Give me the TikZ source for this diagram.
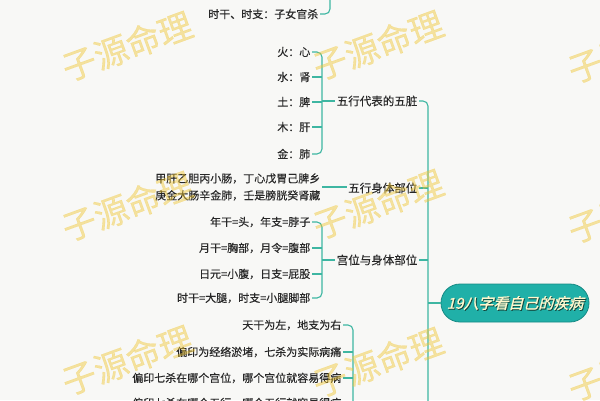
\documentclass[tikz,border=0pt]{standalone}
\usepackage{fontspec}
\setmainfont[FakeBold=0.4]{Noto Sans CJK SC}
\newfontfamily\titlefont[FakeSlant=0.25,FakeBold=1.2]{Noto Sans CJK SC}
\definecolor{bg}{RGB}{248,248,246}
\definecolor{linec}{RGB}{62,182,162}
\definecolor{pillc}{RGB}{32,176,168}
\definecolor{pilldark}{RGB}{22,138,132}
\definecolor{txt}{RGB}{40,40,40}
\definecolor{wm}{RGB}{240,198,50}
\definecolor{titletxt}{RGB}{255,247,205}
\definecolor{titleshade}{RGB}{20,70,60}
\tikzset{
  leaf/.style={anchor=east, inner sep=1.5pt, text=txt, font=\fontsize{11}{17}\selectfont},
  branch/.style={anchor=east, inner sep=1.5pt, text=txt, font=\fontsize{11.5}{13}\selectfont},
  conn/.style={draw=linec, line width=1.1pt, rounded corners=5pt},
  wmark/.style={text=wm, text opacity=0.45, rotate=20, font=\fontsize{34}{36}\selectfont},
  pill/.style={fill=pillc, draw=pilldark, line width=0.8pt, rounded corners=19pt, minimum width=148pt, minimum height=38pt},
  titlestyle/.style={text=titletxt, font=\titlefont\fontsize{15}{17}\selectfont},
  titleshadow/.style={text=titleshade, font=\titlefont\fontsize{15}{17}\selectfont},
}
\begin{document}
\begin{tikzpicture}[x=1pt,y=-1pt]
\useasboundingbox (0,0) rectangle (600,400);
\fill[bg] (0,0) rectangle (600,400);
\clip (0,0) rectangle (600,400);

% top group (parent off the picture)
\node[leaf] (t0) at (320,14) {时干、时支：子女官杀};
\coordinate (b0) at (330,-12);
\draw[conn] (t0.east) -| (b0);

% group 1
\node[leaf] (a1) at (312,52) {火：心};
\node[leaf] (a2) at (312,77) {水：肾};
\node[leaf] (a3) at (312,102) {土：脾};
\node[leaf] (a4) at (312,127) {木：肝};
\node[leaf] (a5) at (312,154) {金：肺};
\node[branch] (p1) at (419,101) {五行代表的五脏};
\coordinate (b1) at (322,101);
\draw[conn] (a1.east) -| (b1) |- (a5.east);
\draw[conn] (a2.east) -- (a2.east -| b1);
\draw[conn] (a3.east) -- (a3.east -| b1);
\draw[conn] (a4.east) -- (a4.east -| b1);
\draw[conn] (b1) -- (p1.west);

% group 2
\node[leaf, align=left] (g2) at (322,187) {甲肝乙胆丙小肠，丁心戊胃己脾乡\\庚金大肠辛金肺，壬是膀胱癸肾藏};
\node[branch] (p2) at (419,188) {五行身体部位};
\draw[conn] (g2.east) -- (g2.east -| p2.west);

% group 3
\node[leaf] (e1) at (312,222) {年干=头，年支=脖子};
\node[leaf] (e2) at (312,248) {月干=胸部，月令=腹部};
\node[leaf] (e3) at (312,274) {日元=小腹，日支=屁股};
\node[leaf] (e4) at (312,298) {时干=大腿，时支=小腿脚部};
\node[branch] (p3) at (419,260) {宫位与身体部位};
\coordinate (b3) at (322,260);
\draw[conn] (e1.east) -| (b3) |- (e4.east);
\draw[conn] (e2.east) -- (e2.east -| b3);
\draw[conn] (e3.east) -- (e3.east -| b3);
\draw[conn] (b3) -- (p3.west);

% group 4 (parent off the picture)
\node[leaf] (d1) at (343,325) {天干为左，地支为右};
\node[leaf] (d2) at (343,352) {偏印为经络淤堵，七杀为实际病痛};
\node[leaf] (d3) at (343,378) {偏印七杀在哪个宫位，哪个宫位就容易得病};
\node[leaf] (d4) at (343,403) {偏印七杀在哪个五行，哪个五行就容易得病};
\coordinate (b4) at (353,430);
\draw[conn] (d1.east) -| (b4);
\draw[conn] (d2.east) -- (d2.east -| b4);
\draw[conn] (d3.east) -- (d3.east -| b4);
\draw[conn] (d4.east) -- (d4.east -| b4);

% trunk and centre
\node[pill] (c) at (515,303) {};
\node[titleshadow] (cs) at ([shift={(0.9,0.9)}]c.center) {19八字看自己的疾病};
\node[titlestyle] (ct) at (c.center) {19八字看自己的疾病};
\coordinate (tr) at (428,430);
\draw[conn] (p1.east) -| (tr);
\draw[conn] (p2.east) -- (p2.east -| tr);
\draw[conn] (p3.east) -- (p3.east -| tr);
\draw[conn] (c.west) -- (c.west -| tr);

% watermarks
\foreach \wx/\wy [count=\i] in {127/46,378/45,633/48,127/206,378/204,633/208,127/360,378/362,633/366}{
  \node[wmark] (wm\i) at (\wx,\wy) {子源命理};
}
\end{tikzpicture}
\end{document}
